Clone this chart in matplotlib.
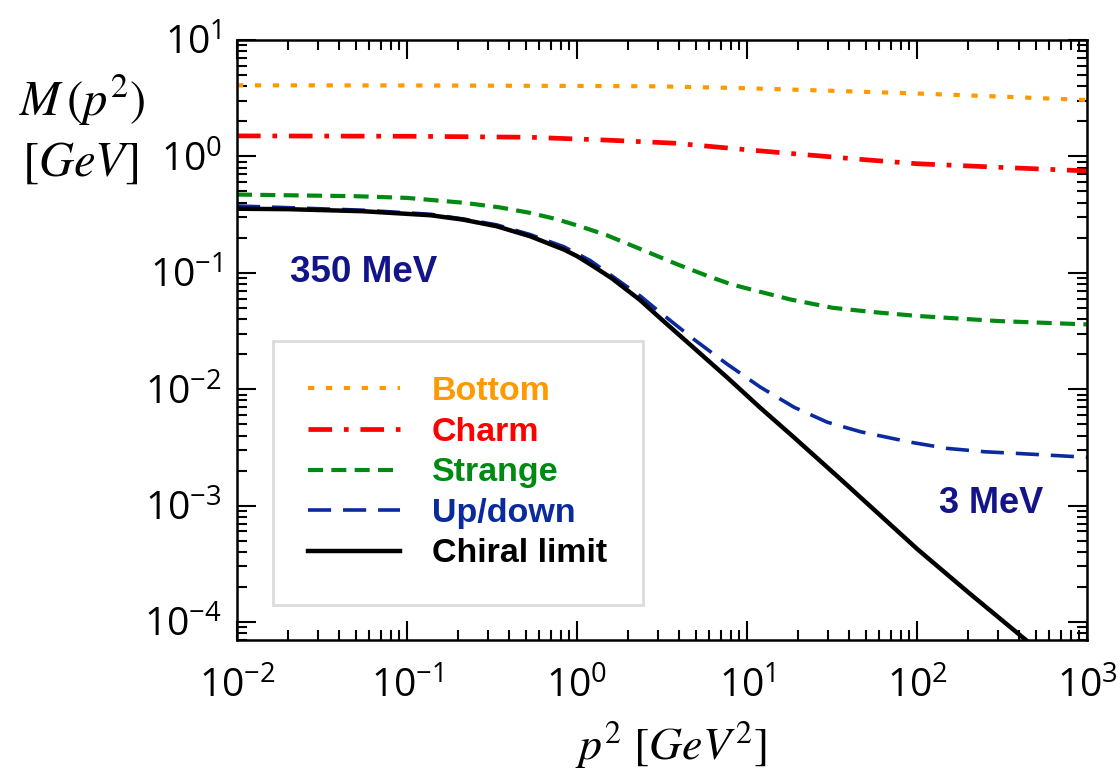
import matplotlib
matplotlib.use("Agg")
import matplotlib.pyplot as plt
from matplotlib.ticker import LogLocator, NullFormatter

# values (p^2 in GeV^2, M in GeV)
bottom_p2 = [0.01, 0.1, 1, 3, 10, 30, 100, 300, 1000]
bottom_m = [4.08, 4.07, 4.03, 4.0, 3.85, 3.67, 3.47, 3.27, 3.05]

charm_p2 = [0.01, 0.1, 0.53, 1.5, 3.7, 5.3, 10, 22.7, 50, 100, 300, 1000]
charm_m = [1.5, 1.49, 1.46, 1.38, 1.30, 1.24, 1.14, 1.03, 0.935, 0.865, 0.807, 0.75]

strange_p2 = [0.01, 0.05, 0.1, 0.214, 0.35, 0.53, 0.75, 1.05, 1.5, 2.36, 3.9, 5.85,
              8, 10.5, 18, 32, 55, 100, 300, 1000]
strange_m = [0.47, 0.455, 0.44, 0.40, 0.365, 0.327, 0.29, 0.25, 0.21, 0.16, 0.118,
             0.094, 0.08, 0.072, 0.059, 0.050, 0.046, 0.0426, 0.0385, 0.036]

updown_p2 = [0.01, 0.055, 0.138, 0.214, 0.337, 0.53, 0.84, 1.2, 2.36, 3.1, 4.87,
             7.65, 12, 18.9, 29.7, 46.8, 92, 150, 250, 400, 1000]
updown_m = [0.375, 0.345, 0.318, 0.29, 0.258, 0.213, 0.167, 0.127, 0.063, 0.0454,
            0.0268, 0.0164, 0.0104, 0.0070, 0.0052, 0.0043, 0.0035, 0.0031, 0.0029,
            0.0028, 0.0026]

chiral_p2 = [0.01, 0.02, 0.055, 0.138, 0.214, 0.337, 0.53, 0.84, 1.0, 1.2, 1.6,
             2.36, 3.1, 4.65, 7.65, 12, 18.9, 35.6, 100, 200, 437, 1000]
chiral_m = [0.355, 0.352, 0.338, 0.312, 0.286, 0.251, 0.206, 0.158, 0.139, 0.118,
            0.0898, 0.058, 0.0405, 0.024, 0.0126, 0.0069, 0.00385, 0.00168,
            0.000425, 0.00018, 7e-5, 2.6e-5]

labels = ["Bottom", "Charm", "Strange", "Up/down", "Chiral limit"]
colors = ["#ff9900", "#ff0000", "#008a12", "#0a2a9e", "#000000"]

plt.rcParams["font.family"] = ["Open Sans", "DejaVu Sans"]

fig = plt.figure(figsize=(11.2, 7.71), dpi=100)
ax = fig.add_axes([237 / 1120, 1 - 640 / 771, 850 / 1120, 600 / 771])

ax.plot(bottom_p2, bottom_m, color=colors[0], lw=3.0, dashes=(1.5, 2.8),
        label=labels[0])
ax.plot(charm_p2, charm_m, color=colors[1], lw=3.4, dashes=(5, 2.5, 1.0, 2.5),
        label=labels[1])
ax.plot(strange_p2, strange_m, color=colors[2], lw=3.0, dashes=(3.6, 2.0),
        label=labels[2])
ax.plot(updown_p2, updown_m, color=colors[3], lw=2.6, dashes=(6.4, 3.3),
        label=labels[3])
ax.plot(chiral_p2, chiral_m, color=colors[4], lw=3.2, label=labels[4])

ax.set_xscale("log")
ax.set_yscale("log")
ax.set_xlim(1e-2, 1e3)
ax.set_ylim(7e-5, 10)

for a in (ax.xaxis, ax.yaxis):
    a.set_major_locator(LogLocator(base=10, numticks=20))
    a.set_minor_locator(LogLocator(base=10, subs=range(2, 10), numticks=20))
    a.set_minor_formatter(NullFormatter())

ax.tick_params(which="both", direction="in", top=True, right=True, width=1.5)
ax.tick_params(which="major", length=14, labelsize=28)
ax.tick_params(which="minor", length=7)
ax.tick_params(axis="x", pad=20)
ax.tick_params(axis="y", pad=11)
for s in ax.spines.values():
    s.set_linewidth(1.8)

ax.text(0.062, 0.613, "350 MeV", transform=ax.transAxes, fontsize=26.5,
        fontweight="bold", color="#14148a", family="Liberation Sans",
        va="center", ha="left")
ax.text(0.826, 0.228, "3 MeV", transform=ax.transAxes, fontsize=26,
        fontweight="bold", color="#14148a", family="Liberation Sans",
        va="center", ha="left")

leg = ax.legend(loc="lower left", bbox_to_anchor=(0.042, 0.058), borderaxespad=0,
                fancybox=False, edgecolor="#dcdcdc", framealpha=1,
                prop={"family": "Liberation Sans", "weight": "bold", "size": 24.5},
                handlelength=2.68, handletextpad=0.95, labelspacing=0.28,
                borderpad=1.05)
leg.get_frame().set_linewidth(2)
for t, c in zip(leg.get_texts(), colors):
    t.set_color(c)

fig.text(82 / 1120, 1 - 100 / 771, r"$M\,(p^2)$", fontsize=35,
         math_fontfamily="stix", ha="center", va="center")
fig.text(80 / 1120, 1 - 163 / 771, r"$[GeV]$", fontsize=35,
         math_fontfamily="stix", ha="center", va="center")
fig.text(671 / 1120, 1 - 745 / 771, r"$p^2\ [GeV^2]$", fontsize=33,
         math_fontfamily="stix", ha="center", va="center")

fig.savefig("out.png", dpi=100)
